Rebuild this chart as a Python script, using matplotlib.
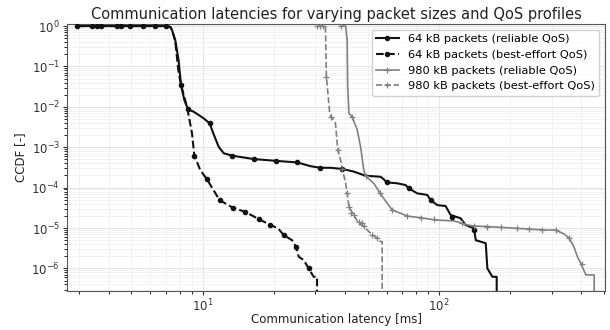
import numpy as np
import matplotlib
matplotlib.use("Agg")
import matplotlib.pyplot as plt
from matplotlib.lines import Line2D

# 64 kB packets, reliable QoS (latency [ms], CCDF)
rel64_x = [2.94, 7.0, 7.3, 7.42, 7.66, 7.91, 8.10, 8.37, 8.67, 9.16, 10.1, 10.71, 11.1,
           11.69, 12.28, 13.33, 16.44, 20.5, 25.2, 28.6, 31.5, 34.8, 39.0, 43.6, 48.9,
           56.6, 58.5, 60.0, 66.7, 72.2, 74.6, 81.0, 89.3, 92.2, 98.4, 106.7, 112.1,
           123.6, 129.7, 140.7, 143.2, 157.8, 160.3, 168.4, 175.6, 175.6]
rel64_y = [1.0, 1.0, 0.95, 0.8, 0.45, 0.144, 0.035, 0.0147, 0.0087, 0.0076, 0.0052, 0.0039,
           0.0022, 0.00103, 7.1e-4, 6.2e-4, 5.1e-4, 4.6e-4, 4.2e-4, 3.4e-4, 3.1e-4, 3.1e-4,
           2.9e-4, 2.5e-4, 1.97e-4, 1.86e-4, 1.6e-4, 1.35e-4, 1.28e-4, 1.16e-4, 9.6e-5,
           7.2e-5, 6.6e-5, 4.9e-5, 3.7e-5, 3.5e-5, 2.1e-5, 1.74e-5, 1.19e-5, 9.8e-6, 5.0e-6,
           4.2e-6, 1.0e-6, 6.2e-7, 6.2e-7, 0.0]
rel64_mx = [2.94, 3.41, 3.58, 3.72, 4.35, 4.53, 4.94, 5.61, 6.31, 7.02, 8.10, 8.67, 10.71,
            13.33, 16.44, 20.5, 25.2, 31.5, 39.0, 60.0, 74.6, 92.2, 114.0, 140.7]
rel64_my = [1.0, 1.0, 1.0, 1.0, 1.0, 1.0, 1.0, 1.0, 1.0, 1.0, 0.035, 0.0087, 0.0039,
            6.2e-4, 5.1e-4, 4.6e-4, 4.2e-4, 3.1e-4, 2.9e-4, 1.35e-4, 9.6e-5, 4.9e-5,
            1.9e-5, 9.0e-6]

# 64 kB packets, best-effort QoS
be64_x = [2.94, 7.0, 7.3, 7.42, 7.66, 7.89, 8.10, 8.59, 9.02, 9.22, 9.78, 10.44, 11.8,
          13.4, 15.17, 17.26, 19.36, 20.87, 22.03, 23.9, 24.95, 25.5, 26.8, 28.1, 29.5,
          30.5, 30.5]
be64_y = [1.0, 1.0, 0.95, 0.8, 0.42, 0.081, 0.035, 0.01, 0.0022, 6.3e-4, 2.7e-4, 1.6e-4,
          4.9e-5, 3.2e-5, 2.5e-5, 1.67e-5, 1.19e-5, 9.8e-6, 6.7e-6, 5.0e-6, 3.3e-6, 1.95e-6,
          1.6e-6, 1.0e-6, 6.2e-7, 6.2e-7, 0.0]
be64_mx = [9.22, 10.44, 11.8, 13.4, 15.17, 17.26, 19.36, 22.03, 24.95, 28.1]
be64_my = [6.2e-4, 1.6e-4, 4.9e-5, 3.2e-5, 2.5e-5, 1.67e-5, 1.19e-5, 6.7e-6, 3.3e-6, 1.0e-6]

# 980 kB packets, reliable QoS
rel980_x = [38.4, 40.3, 40.9, 41.1, 41.6, 42.9, 45.1, 46.6, 48.1, 48.9, 53.0, 56.2, 60.4,
            63.5, 73.5, 83.6, 96.8, 115.8, 131.9, 140.7, 160.3, 182.5, 214.8, 244.6, 278.6,
            312.0, 339.0, 355.6, 373.0, 385.5, 398.0, 418.8, 453.9, 453.9]
rel980_y = [1.0, 1.0, 0.45, 0.0315, 0.0069, 0.0057, 0.0027, 0.00103, 2.7e-4, 1.97e-4,
            1.28e-4, 7.5e-5, 4.1e-5, 2.8e-5, 1.98e-5, 1.8e-5, 1.58e-5, 1.5e-5, 1.19e-5,
            1.12e-5, 1.09e-5, 1.04e-5, 9.8e-6, 9.4e-6, 8.9e-6, 8.9e-6, 7.1e-6, 5.6e-6,
            3.4e-6, 1.95e-6, 1.34e-6, 6.9e-7, 6.9e-7, 0.0]
rel980_mx = [38.4, 42.9, 48.9, 56.2, 63.5, 73.5, 83.6, 95.2, 125.7, 140.7, 160.3, 182.5,
             214.8, 240.0, 274.0, 312.0, 355.6, 405.0]
rel980_my = [1.0, 0.0057, 1.97e-4, 7.5e-5, 2.8e-5, 1.98e-5, 1.8e-5, 1.65e-5, 1.3e-5,
             1.12e-5, 1.09e-5, 1.04e-5, 9.8e-6, 9.5e-6, 9.0e-6, 8.9e-6, 5.6e-6, 1.3e-6]

# 980 kB packets, best-effort QoS
be980_x = [30.5, 33.1, 33.4, 34.5, 35.0, 36.5, 37.3, 38.1, 39.0, 40.3, 40.9, 41.6, 43.6,
           45.8, 48.1, 51.4, 54.8, 56.6, 57.5, 57.5]
be980_y = [1.0, 1.0, 0.056, 0.0069, 0.0057, 0.0039, 8.5e-4, 5.8e-4, 2.9e-4, 1.28e-4,
           7.2e-5, 3.4e-5, 2.1e-5, 1.3e-5, 1.09e-5, 7.4e-6, 5.6e-6, 4.6e-6, 4.6e-6, 0.0]
be980_mx = [30.5, 31.5, 32.4, 33.4, 35.0, 37.3, 39.0, 40.9, 41.6, 42.3, 43.6, 45.8, 47.3,
            48.1, 52.2, 54.8]
be980_my = [1.0, 1.0, 1.0, 0.056, 0.0057, 8.5e-4, 2.9e-4, 7.2e-5, 3.4e-5, 2.3e-5, 2.1e-5,
            1.4e-5, 1.3e-5, 1.1e-5, 6.7e-6, 5.6e-6]

labels = ["64 kB packets (reliable QoS)", "64 kB packets (best-effort QoS)",
          "980 kB packets (reliable QoS)", "980 kB packets (best-effort QoS)"]
y_ticks = [1e0, 1e-1, 1e-2, 1e-3, 1e-4, 1e-5, 1e-6]
x_ticks = [10, 100]

fig = plt.figure(figsize=(6.1, 3.3), dpi=100)
ax = fig.add_axes([0.110, 0.118, 0.882, 0.809])
ax.set_xscale("log")
ax.set_yscale("log")

black = "#111111"
gray = "#808080"
styles = [
    (rel64_x, rel64_y, rel64_mx, rel64_my, black, "-", "o", 1.5),
    (be64_x, be64_y, be64_mx, be64_my, black, "--", "o", 1.5),
    (rel980_x, rel980_y, rel980_mx, rel980_my, gray, "-", "+", 1.2),
    (be980_x, be980_y, be980_mx, be980_my, gray, "--", "+", 1.2),
]
handles = []
for (x, y, mx, my, c, ls, mk, lw), lab in zip(styles, labels):
    ax.plot(x, y, ls=ls, color=c, lw=lw, zorder=3)
    if mk == "o":
        ax.plot(mx, my, ls="none", marker=mk, ms=3, mfc=c, mec=c, zorder=4)
    else:
        ax.plot(mx, my, ls="none", marker=mk, ms=5, mew=0.9, color=c, zorder=4)
    handles.append(Line2D([], [], color=c, ls=ls, lw=lw, marker=mk,
                          ms=3 if mk == "o" else 5, mew=0.9))

ax.set_xlim(2.67, 505)
ax.set_ylim(2.75e-7, 1.12)
ax.set_yticks(y_ticks)
ax.set_xticks(x_ticks)
ax.grid(True, which="major", color="#e4e4e4", lw=0.8)
ax.grid(True, which="minor", color="#f0f0f0", lw=0.6)
ax.set_axisbelow(True)
for s in ax.spines.values():
    s.set_color("#555555")
ax.tick_params(labelsize=8.5, colors="#333333", pad=2)
ax.tick_params(which="major", length=3)
ax.tick_params(which="minor", length=2)
ax.yaxis.set_minor_locator(matplotlib.ticker.LogLocator(base=10, subs=np.arange(2, 10), numticks=20))
ax.yaxis.set_minor_formatter(matplotlib.ticker.NullFormatter())
ax.xaxis.set_minor_formatter(matplotlib.ticker.NullFormatter())

ax.set_xlabel("Communication latency [ms]", fontsize=8.5, color="#222222", labelpad=-1)
ax.set_ylabel("CCDF [-]", fontsize=8.5, color="#222222", labelpad=3)
ax.set_title("Communication latencies for varying packet sizes and QoS profiles",
             fontsize=10.5, color="#222222", pad=4)
ax.legend(handles, labels, loc="upper right", fontsize=8.2, framealpha=0.9)

fig.savefig("out.png", dpi=100)
